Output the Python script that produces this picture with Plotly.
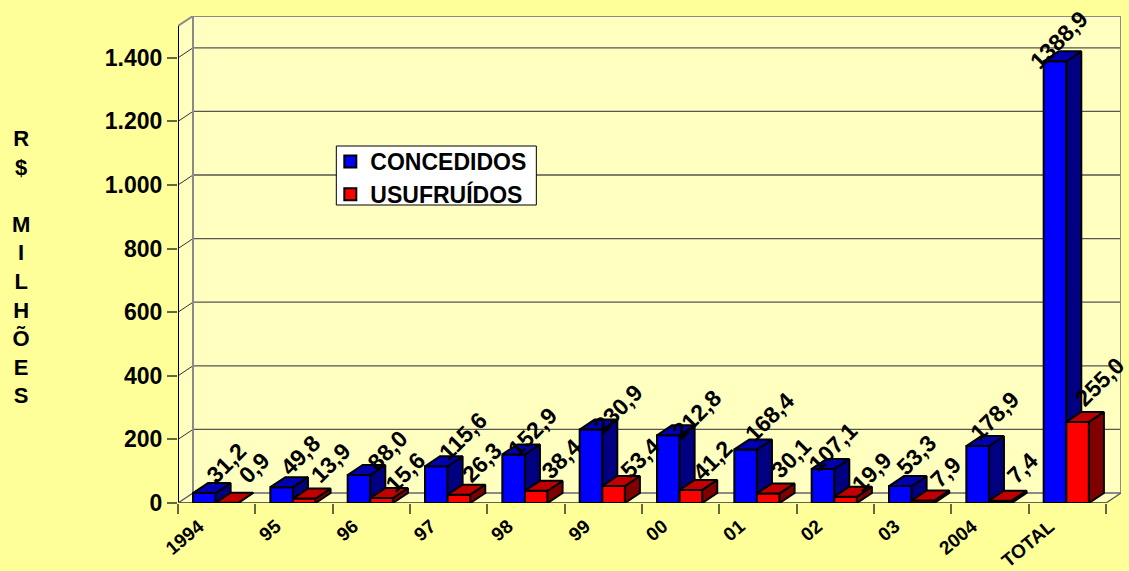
import plotly.graph_objects as go

categories = ["1994", "95", "96", "97", "98", "99", "00", "01", "02", "03", "2004", "TOTAL"]
concedidos = [31.2, 49.8, 88.0, 115.6, 152.9, 230.9, 212.8, 168.4, 107.1, 53.3, 178.9, 1388.9]
usufruidos = [0.9, 13.9, 15.6, 26.3, 38.4, 53.4, 41.2, 30.1, 19.9, 7.9, 7.4, 255.0]
y_ticks = [0, 200, 400, 600, 800, 1000, 1200, 1400]
y_labels = ["0", "200", "400", "600", "800", "1.000", "1.200", "1.400"]
axis_top = 1500

# pixel offsets of each value label from the top of its bar
blue_label_dx = [22, 19, 29, 27, 19, 27, 29, 24, 10, 16, 17, 4]
blue_label_dy = [30, 32, 25, 30, 22, 21, 21, 32, 22, 31, 30, 21]
red_label_dx = [27, 26, 24, 23, 25, 27, 22, 23, 26, 23, 22, 22]
red_label_dy = [35, 36, 26, 33, 32, 28, 30, 35, 25, 28, 33, 40]

FONT = "Liberation Sans"
W, H = 1129, 571
ML, MR, MT, MB = 177.7, 8.4, 16, 68
PW, PH = W - ML - MR, H - MT - MB
DX, DY = 0.194, 31.4      # depth of the pseudo-3D projection, in data units
N = len(categories)
BW = 0.2925
GAP = 0.194
XR = [0, N + DX]
YR = [0, axis_top + DY]
BOLD = dict(family=FONT, color="black", weight=700)


def px(x):
    return (x - ML) / PW


def py(y):
    return 1 - (y - MT) / PH


def polys(left_of, vals, kind):
    xs, ys = [], []
    for i, v in enumerate(vals):
        l = left_of(i)
        r = l + BW
        if kind == "side":
            xs += [r, r + DX, r + DX, r, r, None]
            ys += [0, DY, v + DY, v, 0, None]
        else:
            xs += [l, l + DX, r + DX, r, l, None]
            ys += [v, v + DY, v + DY, v, v, None]
    return xs, ys


def face(left_of, vals, kind, color, xa, ya):
    xs, ys = polys(left_of, vals, kind)
    return go.Scatter(x=xs, y=ys, mode="lines", fill="toself", fillcolor=color,
                      line=dict(color="black", width=2), xaxis=xa, yaxis=ya,
                      showlegend=False, hoverinfo="skip", cliponaxis=False)


blue_left = lambda i: i + GAP
red_left = lambda i: i + GAP + BW

fig = go.Figure()
fig.add_trace(go.Bar(name="CONCEDIDOS", x=[blue_left(i) + BW / 2 for i in range(N)], y=concedidos,
                     width=BW, marker=dict(color="#0000FF", line=dict(color="black", width=2)),
                     xaxis="x", yaxis="y", cliponaxis=False))
fig.add_trace(face(blue_left, concedidos, "side", "#000080", "x", "y"))
fig.add_trace(face(blue_left, concedidos, "top", "#0000B0", "x", "y"))
fig.add_trace(go.Bar(name="USUFRUÍDOS", x=[red_left(i) + BW / 2 for i in range(N)], y=usufruidos,
                     width=BW, marker=dict(color="#FF0000", line=dict(color="black", width=2)),
                     xaxis="x2", yaxis="y2", cliponaxis=False))
fig.add_trace(face(red_left, usufruidos, "side", "#800000", "x2", "y2"))
fig.add_trace(face(red_left, usufruidos, "top", "#C00000", "x2", "y2"))

WALL = "#FFFFC0"
EDGE = "#8A8A8A"
shapes = []


def path(pts):
    return "M " + " L ".join(f"{x},{y}" for x, y in pts) + " Z"


def poly_shape(pts):
    shapes.append(dict(type="path", xref="x", yref="y", layer="below", path=path(pts),
                       fillcolor=WALL, line=dict(width=0)))


def line(x0, y0, x1, y1, color, width):
    shapes.append(dict(type="line", xref="x", yref="y", layer="below", x0=x0, y0=y0, x1=x1, y1=y1,
                       line=dict(color=color, width=width)))


poly_shape([(DX, DY), (N + DX, DY), (N + DX, axis_top + DY), (DX, axis_top + DY)])
poly_shape([(0, 0), (DX, DY), (DX, axis_top + DY), (0, axis_top)])
poly_shape([(0, 0), (N, 0), (N + DX, DY), (DX, DY)])
for v in y_ticks[1:]:
    line(0, v, DX, v + DY, "#333333", 1)
    line(DX, v + DY, N + DX, v + DY, "#555555", 1.3)
line(DX, DY, DX, axis_top + DY, EDGE, 2)
line(DX, axis_top + DY, N + DX, axis_top + DY, EDGE, 2)
line(N + DX, DY, N + DX, axis_top + DY, EDGE, 2)
line(DX, DY, N + DX, DY, EDGE, 2)
line(0, axis_top, DX, axis_top + DY, EDGE, 2)
line(0, 0, DX, DY, "#555555", 1.3)
line(N, 0, N + DX, DY, "#555555", 1.3)
line(0, 0, 0, axis_top, "black", 2)
line(0, 0, N, 0, "#666644", 2)

# white legend box behind the (transparent) native legend
shapes.append(dict(type="rect", xref="paper", yref="paper", layer="above",
                   x0=px(336), x1=px(536), y0=py(205), y1=py(146),
                   fillcolor="white", line=dict(color="black", width=1)))


def fmt(v):
    return f"{v:.1f}".replace(".", ",")


annotations = []
for left_of, vals, dxs, dys in ((blue_left, concedidos, blue_label_dx, blue_label_dy),
                                (red_left, usufruidos, red_label_dx, red_label_dy)):
    for i, v in enumerate(vals):
        annotations.append(dict(x=left_of(i) + BW / 2, y=v, xref="x", yref="y", text=fmt(v),
                                showarrow=False, textangle=-45, xanchor="center", yanchor="middle",
                                xshift=dxs[i], yshift=dys[i], font=dict(size=23, **BOLD)))

annotations.append(dict(x=px(21), y=py(267), xref="paper", yref="paper",
                        text="R<br>$<br> <br>M<br>I<br>L<br>H<br>Õ<br>E<br>S",
                        showarrow=False, xanchor="center", yanchor="middle", align="center",
                        font=dict(size=22, **BOLD)))

fig.update_layout(
    width=W, height=H, autosize=False,
    margin=dict(l=ML, r=MR, t=MT, b=MB, pad=0, autoexpand=False),
    paper_bgcolor="#FFFF99", plot_bgcolor="rgba(0,0,0,0)",
    barmode="overlay", shapes=shapes, annotations=annotations,
    hovermode=False,
    xaxis=dict(range=XR, showgrid=False, zeroline=False, showline=False, automargin=False,
               tickmode="array", tickvals=[i + 0.27 for i in range(N)], ticktext=categories,
               tickangle=-40, ticks="outside", ticklen=4, tickcolor="rgba(0,0,0,0)",
               tickfont=dict(size=19, **BOLD),
               minor=dict(tickmode="array", tickvals=list(range(N + 1)), ticks="outside",
                          ticklen=10, tickwidth=1.5, tickcolor="#666644", showgrid=False)),
    yaxis=dict(range=YR, showgrid=False, zeroline=False, showline=False, automargin=False,
               tickmode="array", tickvals=y_ticks, ticktext=y_labels,
               ticks="outside", ticklen=10, tickwidth=1.5, tickcolor="#666644",
               tickfont=dict(size=23, **BOLD)),
    xaxis2=dict(range=XR, overlaying="x", visible=False),
    yaxis2=dict(range=YR, overlaying="y", visible=False),
    legend=dict(x=px(330), y=py(140), xanchor="left", yanchor="top",
                bgcolor="rgba(0,0,0,0)", borderwidth=0,
                font=dict(size=23, **BOLD), itemwidth=30, tracegroupgap=0),
)

fig.write_html("out.html", config=dict(displayModeBar=False),
               post_script="document.body.style.margin='0';")
